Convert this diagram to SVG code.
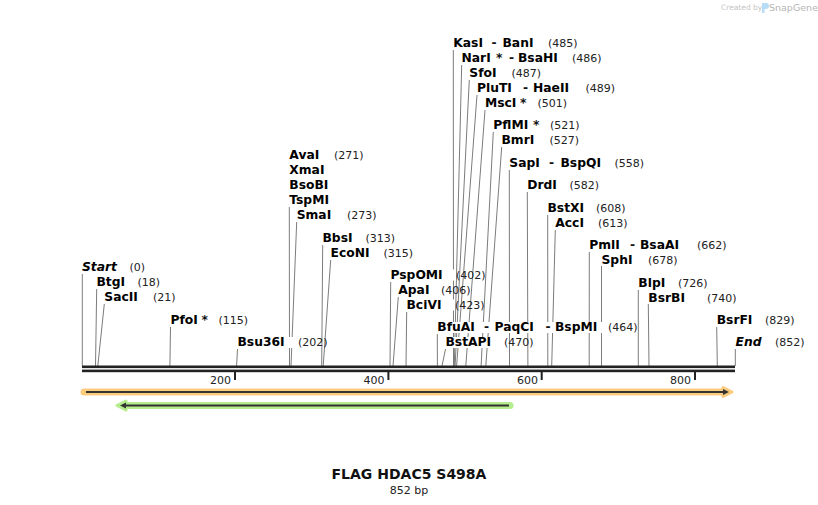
<svg xmlns="http://www.w3.org/2000/svg" width="818" height="505" viewBox="0 0 818 505">
<style>
text{font-family:"DejaVu Sans","Liberation Sans",sans-serif}
.n{font-size:12.3px;font-weight:bold;fill:#000}
.i{font-style:italic}
.p{font-size:11px;fill:#222}
.d{font-size:12.3px;font-weight:bold;fill:#111}
.l{stroke:#7c7c7c;stroke-width:1;fill:none}
.bg{fill:#fff}
.tk{font-size:11px;fill:#222;text-anchor:end}
</style>
<rect width="818" height="505" fill="#fff"/>
<g id="logo">
<text x="721" y="10" style="font-size:7.5px;fill:#c4c4c4">Created by</text>
<path d="M762 3 h4 a3 3 0 0 1 0 6 h-1.5 v4 h-2.5 z" fill="#b7dcf5"/>
<text x="769" y="11" style="font-size:9.5px;fill:#b5b5b5">SnapGene</text>
</g>
<g id="connectors">
<path class="l" d="M82.3 274V366"/>
<path class="l" d="M96.7 289L95.5 366"/>
<path class="l" d="M104.3 304L97.8 366"/>
<path class="l" d="M170.5 327L169.9 366"/>
<path class="l" d="M237.5 349L236.6 366"/>
<path class="l" d="M289.3 207L289.5 366"/>
<path class="l" d="M296.7 222L291 366"/>
<path class="l" d="M322.7 245L321.7 366"/>
<path class="l" d="M330.7 260L323.2 366"/>
<path class="l" d="M390.7 282L390 366"/>
<path class="l" d="M398.3 297L393 366"/>
<path class="l" d="M406.7 312L406 366"/>
<path class="l" d="M437.3 334L437.4 366"/>
<path class="l" d="M445.5 349L442 366"/>
<path class="l" d="M453.3 50L453.5 366"/>
<path class="l" d="M461.7 65L454.3 366"/>
<path class="l" d="M469.3 80L455.1 366"/>
<path class="l" d="M477 95L456.6 366"/>
<path class="l" d="M485 110L465.8 366"/>
<path class="l" d="M493.3 132L481.1 366"/>
<path class="l" d="M501.7 147L485.8 366"/>
<path class="l" d="M509.3 170L509.5 366"/>
<path class="l" d="M527.3 192L527.9 366"/>
<path class="l" d="M547.7 215L547.8 366"/>
<path class="l" d="M555.3 230L551.7 366"/>
<path class="l" d="M589.3 252L589.2 366"/>
<path class="l" d="M601.5 266L601.5 366"/>
<path class="l" d="M638.3 290L638.3 366"/>
<path class="l" d="M648.3 304L649 366"/>
<path class="l" d="M716.7 327L717.3 366"/>
<path class="l" d="M735.3 349L735.3 366"/>
</g>
<g id="backbone">
<rect x="82" y="365.5" width="653" height="2.6" fill="#222"/>
<rect x="82" y="369.6" width="653" height="2.6" fill="#222"/>
<g fill="#222">
<rect x="234" y="372" width="2" height="8"/>
<rect x="387.4" y="372" width="2" height="8"/>
<rect x="540.7" y="372" width="2" height="8"/>
<rect x="694" y="372" width="2" height="8"/>
</g>
<text class="tk" x="231" y="384">200</text>
<text class="tk" x="384.5" y="384">400</text>
<text class="tk" x="538" y="384">600</text>
<text class="tk" x="691" y="384">800</text>
</g>
<g id="feature-orange">
<path d="M84 392H726" stroke="#fccb7d" stroke-width="7" stroke-linecap="round"/>
<path d="M723 387.5L732 392L723 396.5Z" fill="#fccb7d" stroke="#fccb7d" stroke-width="3" stroke-linejoin="round"/>
<path d="M86 392H724" stroke="#333" stroke-width="2"/>
<path d="M723 389L729 392L723 395Z" fill="#333"/>
</g>
<g id="feature-green">
<path d="M124 405.5H510" stroke="#b5ec8c" stroke-width="7" stroke-linecap="round"/>
<path d="M126 401L117 405.5L126 410Z" fill="#b5ec8c" stroke="#b5ec8c" stroke-width="3" stroke-linejoin="round"/>
<path d="M125 405.5H509" stroke="#333" stroke-width="2"/>
<path d="M126 402.5L120 405.5L126 408.5Z" fill="#333"/>
</g>
<g id="title">
<text x="409" y="479" text-anchor="middle" style="font-size:14px;font-weight:bold;fill:#111">FLAG HDAC5 S498A</text>
<text x="409" y="494" text-anchor="middle" style="font-size:11px;fill:#222">852 bp</text>
</g>
<g id="site-start"><text class="n i" x="82" y="271">Start</text><text class="p" x="129.5" y="271">(0)</text></g>
<g id="site-btgi"><rect class="bg" x="96" y="277" width="41" height="11"/><text class="n" x="96.5" y="286">BtgI</text><text class="p" x="137.5" y="286">(18)</text></g>
<g id="site-sacii"><rect class="bg" x="103.5" y="292" width="49" height="11"/><text class="n" x="104.3" y="301">SacII</text><text class="p" x="153" y="301">(21)</text></g>
<g id="site-pfoi"><rect class="bg" x="170" y="315" width="48" height="11"/><text class="n" x="170.5" y="324">PfoI</text><text class="d" x="201.5" y="324">*</text><text class="p" x="218.5" y="324">(115)</text></g>
<g id="site-bsu36i"><rect class="bg" x="237" y="337" width="61" height="11"/><text class="n" x="237.5" y="346">Bsu36I</text><text class="p" x="298" y="346">(202)</text></g>
<g id="site-avai"><text class="n" x="289.3" y="158.5">AvaI</text><text class="p" x="334" y="158.5">(271)</text><text class="n" x="289.3" y="173.5">XmaI</text><text class="n" x="289.3" y="188.5">BsoBI</text><text class="n" x="289.3" y="203.5">TspMI</text></g>
<g id="site-smai"><text class="n" x="296.7" y="218.5">SmaI</text><text class="p" x="347" y="218.5">(273)</text></g>
<g id="site-bbsi"><text class="n" x="322.5" y="241.5">BbsI</text><text class="p" x="365.5" y="241.5">(313)</text></g>
<g id="site-econi"><text class="n" x="330.5" y="256.5">EcoNI</text><text class="p" x="383.5" y="256.5">(315)</text></g>
<g id="site-pspomi"><rect class="bg" x="390" y="269.5" width="66" height="11"/><text class="n" x="390.5" y="278.5">PspOMI</text><text class="p" x="456" y="278.5">(402)</text></g>
<g id="site-apai"><rect class="bg" x="398" y="284.5" width="43" height="11"/><text class="n" x="398.3" y="293.5">ApaI</text><text class="p" x="441" y="293.5">(406)</text></g>
<g id="site-bcivi"><rect class="bg" x="406" y="299.5" width="49" height="11"/><text class="n" x="406.5" y="308.5">BciVI</text><text class="p" x="455" y="308.5">(423)</text></g>
<g id="site-bfuai"><rect class="bg" x="437" y="322" width="171" height="11"/><text class="n" x="437.3" y="331">BfuAI</text><text class="d" x="484" y="331">-</text><text class="n" x="494.5" y="331">PaqCI</text><text class="d" x="545.5" y="331">-</text><text class="n" x="555" y="331">BspMI</text><text class="p" x="608" y="331">(464)</text></g>
<g id="site-bstapi"><rect class="bg" x="445" y="337" width="59" height="11"/><text class="n" x="445.5" y="346">BstAPI</text><text class="p" x="504" y="346">(470)</text></g>
<g id="site-kasi"><text class="n" x="453.3" y="46.5">KasI</text><text class="d" x="491.5" y="46.5">-</text><text class="n" x="502.5" y="46.5">BanI</text><text class="p" x="548" y="46.5">(485)</text></g>
<g id="site-nari"><rect class="bg" x="461" y="52.5" width="111" height="11"/><text class="n" x="461.5" y="61.5">NarI</text><text class="d" x="496" y="61.5">*</text><text class="d" x="509" y="61.5">-</text><text class="n" x="518" y="61.5">BsaHI</text><text class="p" x="572" y="61.5">(486)</text></g>
<g id="site-sfoi"><rect class="bg" x="469" y="67.5" width="42" height="11"/><text class="n" x="469.3" y="76.5">SfoI</text><text class="p" x="511.5" y="76.5">(487)</text></g>
<g id="site-pluti"><rect class="bg" x="476.5" y="82.5" width="109" height="11"/><text class="n" x="477" y="91.5">PluTI</text><text class="d" x="523" y="91.5">-</text><text class="n" x="533" y="91.5">HaeII</text><text class="p" x="585.5" y="91.5">(489)</text></g>
<g id="site-msci"><rect class="bg" x="484.5" y="97.5" width="53" height="11"/><text class="n" x="485" y="106.5">MscI</text><text class="d" x="520" y="106.5">*</text><text class="p" x="537.5" y="106.5">(501)</text></g>
<g id="site-pflmi"><rect class="bg" x="493" y="120" width="57" height="11"/><text class="n" x="493.3" y="129">PflMI</text><text class="d" x="533" y="129">*</text><text class="p" x="550" y="129">(521)</text></g>
<g id="site-bmri"><rect class="bg" x="501" y="134.5" width="48" height="11"/><text class="n" x="501.5" y="143.5">BmrI</text><text class="p" x="549.5" y="143.5">(527)</text></g>
<g id="site-sapi"><rect class="bg" x="509" y="157.5" width="105" height="11"/><text class="n" x="509.3" y="166.5">SapI</text><text class="d" x="549" y="166.5">-</text><text class="n" x="560.5" y="166.5">BspQI</text><text class="p" x="614.5" y="166.5">(558)</text></g>
<g id="site-drdi"><rect class="bg" x="527" y="180" width="42" height="11"/><text class="n" x="527.3" y="189">DrdI</text><text class="p" x="569.5" y="189">(582)</text></g>
<g id="site-bstxi"><rect class="bg" x="547" y="203" width="49" height="11"/><text class="n" x="547.5" y="212">BstXI</text><text class="p" x="596" y="212">(608)</text></g>
<g id="site-acci"><rect class="bg" x="555" y="218" width="43" height="11"/><text class="n" x="555.3" y="227">AccI</text><text class="p" x="598" y="227">(613)</text></g>
<g id="site-pmli"><rect class="bg" x="589" y="240" width="108" height="11"/><text class="n" x="589.3" y="249">PmlI</text><text class="d" x="630" y="249">-</text><text class="n" x="640" y="249">BsaAI</text><text class="p" x="697" y="249">(662)</text></g>
<g id="site-sphi"><rect class="bg" x="601" y="254.5" width="47" height="11"/><text class="n" x="601.5" y="263.5">SphI</text><text class="p" x="648" y="263.5">(678)</text></g>
<g id="site-blpi"><rect class="bg" x="638" y="278" width="40" height="11"/><text class="n" x="638.3" y="287">BlpI</text><text class="p" x="678" y="287">(726)</text></g>
<g id="site-bsrbi"><rect class="bg" x="648" y="292.5" width="59" height="11"/><text class="n" x="648.3" y="301.5">BsrBI</text><text class="p" x="707" y="301.5">(740)</text></g>
<g id="site-bsrfi"><rect class="bg" x="716.5" y="315" width="48" height="11"/><text class="n" x="716.7" y="324">BsrFI</text><text class="p" x="765" y="324">(829)</text></g>
<g id="site-end"><text class="n i" x="735.5" y="346">End</text><text class="p" x="775" y="346">(852)</text></g>
</svg>
